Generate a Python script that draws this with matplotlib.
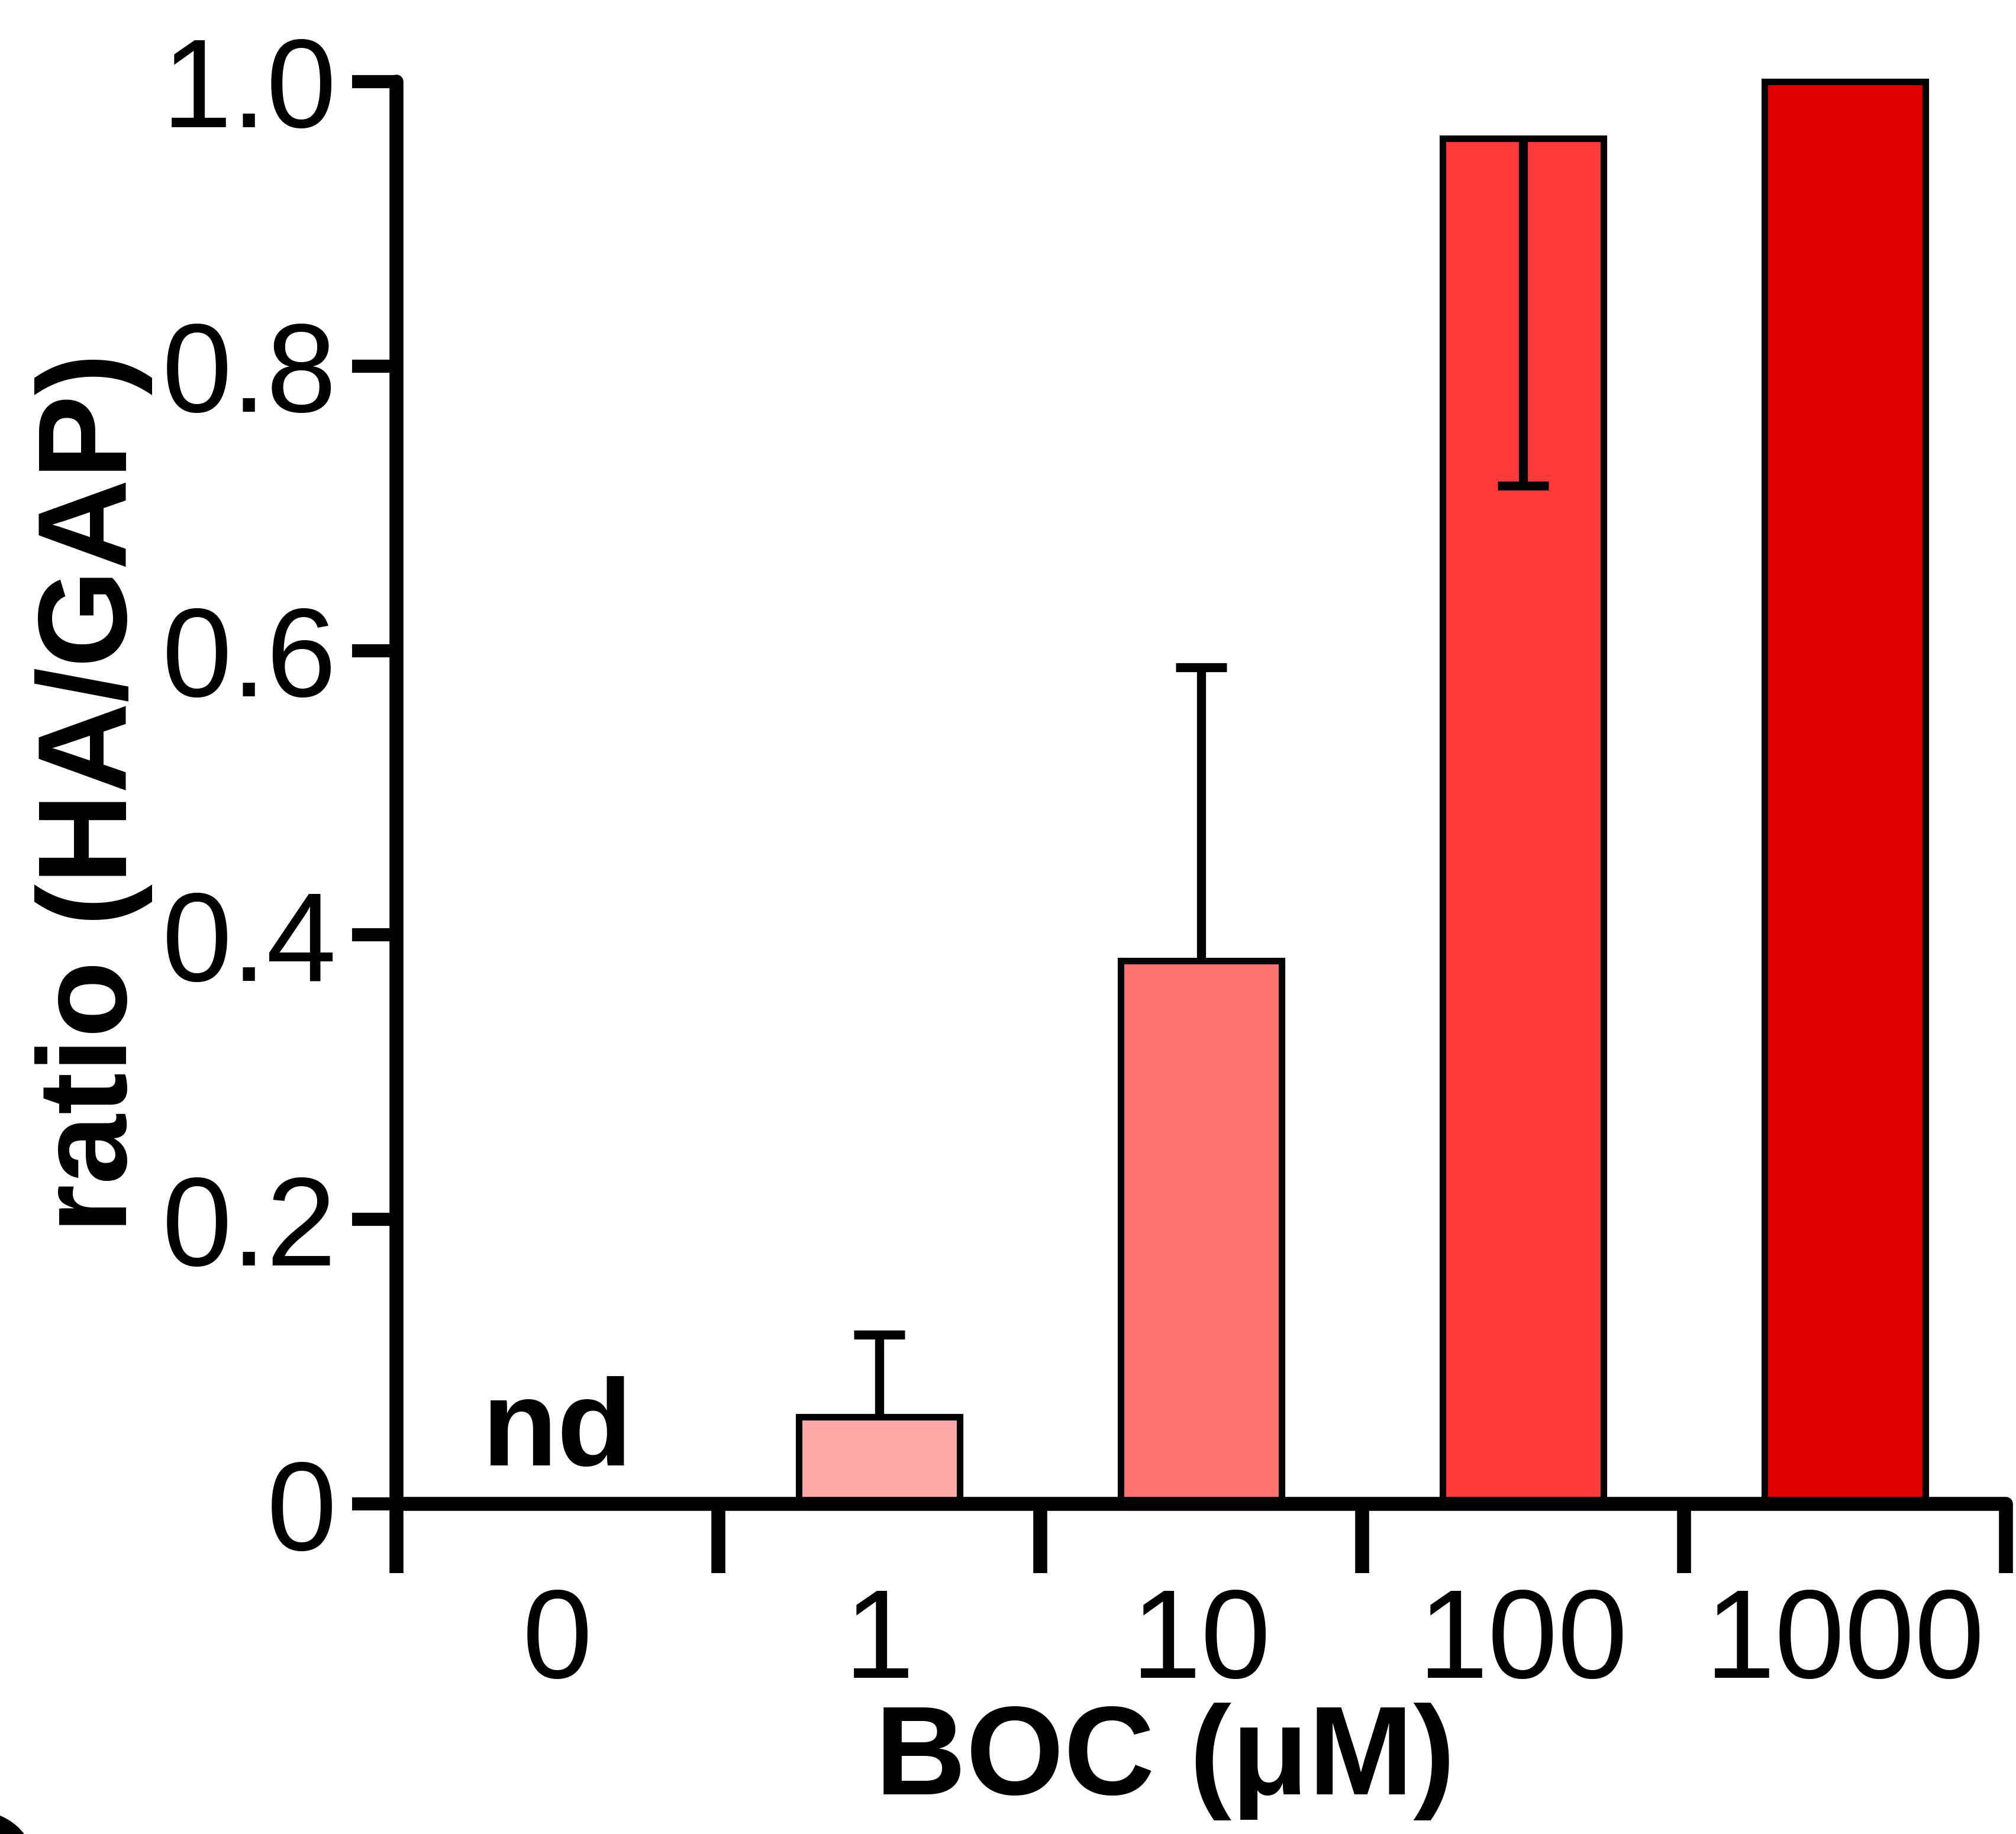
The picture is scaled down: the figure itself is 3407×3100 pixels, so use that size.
import matplotlib
matplotlib.use("Agg")
import matplotlib.pyplot as plt
from matplotlib.patches import Circle
import numpy as np

plt.rcParams['font.family'] = ['Liberation Sans', 'DejaVu Sans']

# data
doses = ['0', '1', '10', '100', '1000']
ratio = [0.0, 0.061, 0.382, 0.960, 1.0]
err_up = [0.0, 0.058, 0.206, 0.0, 0.0]
err_down = [0.0, 0.0, 0.0, 0.244, 0.0]
colors = ['#FFFFFF', '#FFA8A8', '#FF7272', '#FF3A3A', '#E00000']
yticks = [0, 0.2, 0.4, 0.6, 0.8, 1.0]
ytick_labels = ['0', '0.2', '0.4', '0.6', '0.8', '1.0']

fig = plt.figure(figsize=(34.07, 31.0), dpi=100)
ax = fig.add_axes([0.1967, 0.18, 0.7983, 0.7755])

x = np.arange(len(doses))
shown = [i for i in x if ratio[i] > 0]
ax.bar([x[i] for i in shown], [ratio[i] for i in shown], width=0.5,
       color=[colors[i] for i in shown], edgecolor='black', linewidth=8,
       clip_on=False, zorder=2)

# one-sided error bars, cap only at the far end
for i in shown:
    for d in (err_up[i], -err_down[i]):
        if d == 0:
            continue
        end = ratio[i] + d
        ax.vlines(x[i], ratio[i], end, color='black', linewidth=11, zorder=3)
        ax.plot([x[i]], [end], marker='_', markersize=62, mew=11,
                color='black', zorder=3)

ax.text(0, 0.027, 'nd', ha='center', va='baseline', fontsize=150,
        fontweight='bold')

ax.set_xlim(-0.5, 4.5)
ax.set_ylim(0, 1.0)

for side in ['top', 'right']:
    ax.spines[side].set_visible(False)
for side in ['left', 'bottom']:
    ax.spines[side].set_linewidth(17)
    ax.spines[side].set_capstyle('round')

ax.set_yticks(yticks)
ax.set_yticklabels(ytick_labels)
ax.tick_params(axis='y', direction='out', length=54, width=16, pad=19,
               labelsize=153)

ax.set_xticks(x)
ax.set_xticklabels(doses)
ax.set_xticks(np.arange(-0.5, 5, 1.0), minor=True)
ax.tick_params(axis='x', which='major', length=0, pad=100, labelsize=153)
ax.tick_params(axis='x', which='minor', direction='out', length=84, width=17)

ax.set_ylabel('ratio (HA/GAP)', fontsize=153, fontweight='bold')
ax.yaxis.set_label_coords(-0.188, 0.5)
ax.yaxis.label.set_va('center')
ax.set_xlabel('BOC (μM)', fontsize=153, fontweight='bold')
ax.xaxis.set_label_coords(0.4776, -0.181)
ax.xaxis.label.set_va('center')

# edge of the neighbouring panel's letter, cut off at the bottom-left corner
fig.patches.append(Circle((-40 / 3407, -50 / 3100), 97 / 3407,
                          transform=fig.transFigure, color='black'))

fig.savefig('out.png', dpi=100)
